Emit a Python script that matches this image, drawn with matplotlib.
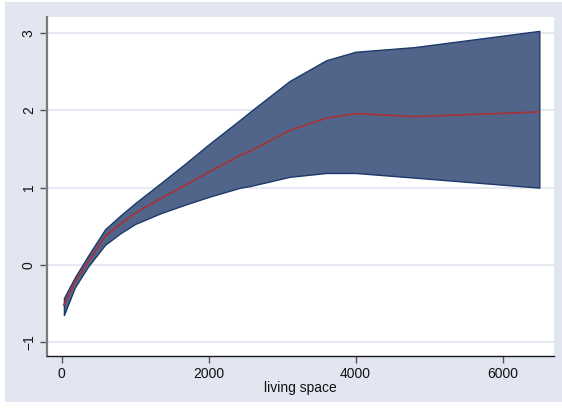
import matplotlib
matplotlib.use("Agg")
import matplotlib.pyplot as plt
from matplotlib.patches import Rectangle

plt.rcParams['font.family'] = ['Liberation Sans', 'DejaVu Sans']

x = [30, 180, 360, 590, 800, 1000, 1350, 1680, 2000, 2430, 2560, 3100, 3600, 4000, 4800, 6500]
upper = [-0.43, -0.16, 0.12, 0.46, 0.64, 0.80, 1.06, 1.31, 1.56, 1.88, 1.98, 2.38, 2.65, 2.76, 2.82, 3.03]
mean = [-0.52, -0.22, 0.04, 0.37, 0.53, 0.67, 0.86, 1.03, 1.20, 1.42, 1.47, 1.74, 1.90, 1.96, 1.92, 1.98]
lower = [-0.65, -0.29, -0.02, 0.26, 0.41, 0.53, 0.67, 0.78, 0.88, 1.00, 1.02, 1.14, 1.19, 1.19, 1.13, 1.00]

xticks = [0, 2000, 4000, 6000]
yticks = [-1, 0, 1, 2, 3]
xlabel = "living space"

W, H = 562, 411
fig = plt.figure(figsize=(W / 100, H / 100), dpi=100)
fig.patch.set_facecolor('white')
fig.patches.append(Rectangle((5 / W, (H - 402) / H), (W - 5) / W, (402 - 2) / H,
                             transform=fig.transFigure, facecolor='#E2E6F1',
                             edgecolor='none', zorder=-10))

ax = fig.add_axes([47 / W, (H - 356) / H, (554 - 47) / W, (356 - 17) / H])
ax.set_zorder(5)
ax.set_facecolor('white')
ax.set_xlim(-200, 6700)
ax.set_ylim(-1.18, 3.21)

ax.set_yticks(yticks)
ax.set_xticks(xticks)
ax.grid(axis='y', color='#E1E5EF', linewidth=1.2, zorder=0)
ax.set_axisbelow(True)

ax.fill_between(x, lower, upper, facecolor='#51658A', edgecolor='#1C3A6B',
                linewidth=1.0, zorder=2)
ax.plot(x, mean, color='#A2343C', linewidth=1.3, zorder=3)

for s in ['top', 'right']:
    ax.spines[s].set_visible(False)
ax.spines['left'].set_color('#7a7a7a')
ax.spines['left'].set_linewidth(1.6)
ax.spines['bottom'].set_color('#1a1a1a')
ax.spines['bottom'].set_linewidth(1.0)

ax.tick_params(axis='y', direction='out', length=5, width=1, color='#555555',
               labelsize=10, labelcolor='#111111', pad=3)
ax.tick_params(axis='x', direction='out', length=5, width=1, color='#555555',
               labelsize=10, labelcolor='#111111', pad=3)
for lab in ax.get_yticklabels():
    lab.set_rotation(90)
    lab.set_va('center')

ax.set_xlabel(xlabel, fontsize=10, color='#111111', labelpad=0)

fig.savefig('out.png', dpi=100, facecolor=fig.get_facecolor())
